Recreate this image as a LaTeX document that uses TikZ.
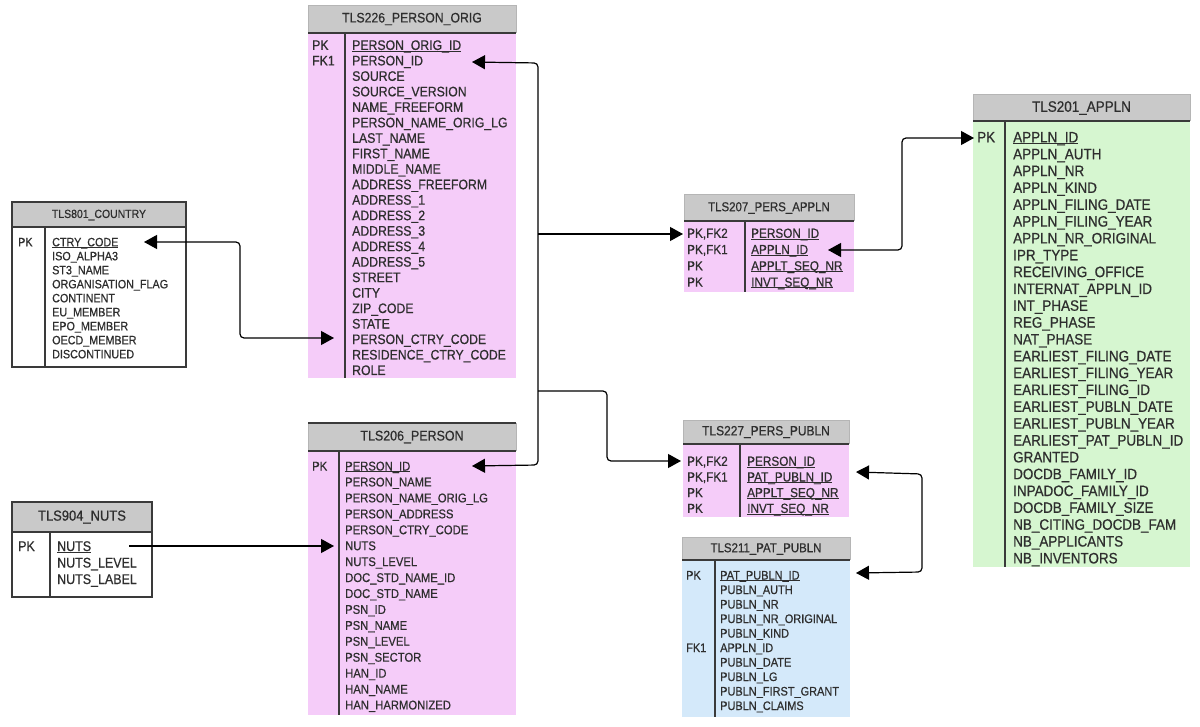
\documentclass[tikz,border=0pt]{standalone}
\usepackage{fontspec}
\setmainfont{Liberation Sans}[Scale=1.12, FakeStretch=0.89, FakeBold=0.6]
\usetikzlibrary{arrows.meta}
\definecolor{pinkb}{HTML}{F5CCF9}
\definecolor{greenb}{HTML}{D6F6D0}
\definecolor{blueb}{HTML}{D4E9FA}
\definecolor{hdgray}{HTML}{C9C9C9}
\definecolor{txt}{HTML}{2E2E2E}
\definecolor{frame}{HTML}{3A3A3A}
\definecolor{lframe}{HTML}{B5B5B5}
\newcommand\ulx[1]{\setbox0\hbox{#1}\rlap{\rule[-0.13em]{\wd0}{0.075em}}\box0}
\tikzset{
 fld/.style={font=\fontsize{#1}{#1}\selectfont, anchor=base west, inner sep=0pt, text=txt},
 ttl/.style={font=\fontsize{#1}{#1}\selectfont, inner sep=0pt, text=txt},
 hdline/.style={draw=frame, line width=1.6pt},
 divline/.style={draw=frame, line width=1.3pt},
 lightframe/.style={draw=lframe, line width=0.8pt},
 boxline/.style={draw=frame, line width=1.3pt},
 conn/.style={draw=black, line width=1.2pt, rounded corners=4pt},
 tipend/.style={-{Triangle[length=13pt,width=14pt]}},
 tipboth/.style={{Triangle[length=13pt,width=14pt]}-{Triangle[length=13pt,width=14pt]}},
}
\newcommand\tblframe[7]{%
 \fill[hdgray] (#1,#3) rectangle (#2,#4);
 \draw[lightframe] (#1,#4) -- (#1,#3) -- (#2,#3) -- (#2,#4);
 \fill[#7] (#1,#4) rectangle (#2,#5);
 \draw[hdline] (#1,#4) -- (#2,#4);
 \draw[divline] (#6,#4) -- (#6,#5);}
\begin{document}
\begin{tikzpicture}[x=1pt,y=-1pt]
\useasboundingbox (0,0) rectangle (1200,727);
\fill[white] (0,0) rectangle (1200,727);

% ---------- TLS226_PERSON_ORIG
\tblframe{308}{516}{5}{33}{378}{345}{pinkb}
\node[ttl=12.3] (t226) at (412,19) {TLS226\_PERSON\_ORIG};
\node[fld=12.3] (o1k) at (312,49.9) {PK};
\node[fld=12.3] (o2k) at (312,65.4) {FK1};
\foreach \f [count=\i] in {\ulx{PERSON\_ORIG\_ID},PERSON\_ID,SOURCE,SOURCE\_VERSION,NAME\_FREEFORM,PERSON\_NAME\_ORIG\_LG,LAST\_NAME,FIRST\_NAME,MIDDLE\_NAME,ADDRESS\_FREEFORM,ADDRESS\_1,ADDRESS\_2,ADDRESS\_3,ADDRESS\_4,ADDRESS\_5,STREET,CITY,ZIP\_CODE,STATE,PERSON\_CTRY\_CODE,RESIDENCE\_CTRY\_CODE,ROLE}
  \node[fld=12.3] (o\i) at (352,{49.9+15.48*(\i-1)}) {\f};

% ---------- TLS206_PERSON
\tblframe{308}{516}{423}{451}{715}{339}{pinkb}
\draw[hdline] (308,423) -- (516,423);
\node[ttl=12.5] (t206) at (412,437) {TLS206\_PERSON};
\node[fld=11.3] (p1k) at (312,470.5) {PK};
\foreach \f [count=\i] in {\ulx{PERSON\_ID},PERSON\_NAME,PERSON\_NAME\_ORIG\_LG,PERSON\_ADDRESS,PERSON\_CTRY\_CODE,NUTS,NUTS\_LEVEL,DOC\_STD\_NAME\_ID,DOC\_STD\_NAME,PSN\_ID,PSN\_NAME,PSN\_LEVEL,PSN\_SECTOR,HAN\_ID,HAN\_NAME,HAN\_HARMONIZED}
  \node[fld=11.3] (p\i) at (345,{470.5+15.93*(\i-1)}) {\f};

% ---------- TLS801_COUNTRY
\fill[hdgray] (12,202) rectangle (186,227);
\fill[white] (12,227) rectangle (186,367);
\draw[boxline] (12,202) rectangle (186,367);
\draw[boxline] (12,227) -- (186,227);
\draw[divline] (45,227) -- (45,367);
\node[ttl=10.5] (t801) at (99,215) {TLS801\_COUNTRY};
\node[fld=10.8] (c1k) at (18,246.3) {PK};
\foreach \f [count=\i] in {\ulx{CTRY\_CODE},ISO\_ALPHA3,ST3\_NAME,ORGANISATION\_FLAG,CONTINENT,EU\_MEMBER,EPO\_MEMBER,OECD\_MEMBER,DISCONTINUED}
  \node[fld=10.8] (c\i) at (52,{246.3+14*(\i-1)}) {\f};

% ---------- TLS904_NUTS
\fill[hdgray] (12,502) rectangle (152,532);
\fill[white] (12,532) rectangle (152,597);
\draw[boxline] (12,502) rectangle (152,597);
\draw[boxline] (12,532) -- (152,532);
\draw[divline] (50,532) -- (50,597);
\node[ttl=13] (t904) at (82,517) {TLS904\_NUTS};
\node[fld=12.5] (n1k) at (18,551) {PK};
\foreach \f [count=\i] in {\ulx{NUTS},NUTS\_LEVEL,NUTS\_LABEL}
  \node[fld=12.5] (n\i) at (57,{551+16.5*(\i-1)}) {\f};

% ---------- TLS207_PERS_APPLN
\tblframe{684}{854}{194}{221}{292}{745}{pinkb}
\node[ttl=11.5] (t207) at (769,208) {TLS207\_PERS\_APPLN};
\foreach \k [count=\i] in {PK\rlap{,}\hphantom{,}FK2,PK\rlap{,}\hphantom{,}FK1,PK,PK}
  \node[fld=11.8] (a\i k) at (687,{237.8+16.3*(\i-1)}) {\k};
\foreach \f [count=\i] in {\ulx{PERSON\_ID},\ulx{APPLN\_ID},\ulx{APPLT\_SEQ\_NR},\ulx{INVT\_SEQ\_NR}}
  \node[fld=11.8] (a\i) at (751,{237.8+16.3*(\i-1)}) {\f};

% ---------- TLS227_PERS_PUBLN
\tblframe{683}{849}{420}{444}{517}{740}{pinkb}
\node[ttl=12] (t227) at (766,432) {TLS227\_PERS\_PUBLN};
\foreach \k [count=\i] in {PK\rlap{,}\hphantom{,}FK2,PK\rlap{,}\hphantom{,}FK1,PK,PK}
  \node[fld=11.8] (b\i k) at (687,{465.8+15.7*(\i-1)}) {\k};
\foreach \f [count=\i] in {\ulx{PERSON\_ID},\ulx{PAT\_PUBLN\_ID},\ulx{APPLT\_SEQ\_NR},\ulx{INVT\_SEQ\_NR}}
  \node[fld=11.8] (b\i) at (747,{465.8+15.7*(\i-1)}) {\f};

% ---------- TLS211_PAT_PUBLN
\tblframe{682}{850}{537}{560}{717}{715}{blueb}
\node[ttl=11.5] (t211) at (766,549) {TLS211\_PAT\_PUBLN};
\node[fld=11] (u1k) at (686,579.5) {PK};
\node[fld=11] (u6k) at (686,{579.5+14.5*5}) {FK1};
\foreach \f [count=\i] in {\ulx{PAT\_PUBLN\_ID},PUBLN\_AUTH,PUBLN\_NR,PUBLN\_NR\_ORIGINAL,PUBLN\_KIND,APPLN\_ID,PUBLN\_DATE,PUBLN\_LG,PUBLN\_FIRST\_GRANT,PUBLN\_CLAIMS}
  \node[fld=11] (u\i) at (720,{579.5+14.5*(\i-1)}) {\f};

% ---------- TLS201_APPLN
\tblframe{973}{1190}{94}{121}{567}{1005}{greenb}
\node[ttl=13.5] (t201) at (1081.5,108) {TLS201\_APPLN};
\node[fld=13.5] (g1k) at (977,142.4) {PK};
\foreach \f [count=\i] in {\ulx{APPLN\_ID},APPLN\_AUTH,APPLN\_NR,APPLN\_KIND,APPLN\_FILING\_DATE,APPLN\_FILING\_YEAR,APPLN\_NR\_ORIGINAL,IPR\_TYPE,RECEIVING\_OFFICE,INTERNAT\_APPLN\_ID,INT\_PHASE,REG\_PHASE,NAT\_PHASE,EARLIEST\_FILING\_DATE,EARLIEST\_FILING\_YEAR,EARLIEST\_FILING\_ID,EARLIEST\_PUBLN\_DATE,EARLIEST\_PUBLN\_YEAR,EARLIEST\_PAT\_PUBLN\_ID,GRANTED,DOCDB\_FAMILY\_ID,INPADOC\_FAMILY\_ID,DOCDB\_FAMILY\_SIZE,NB\_CITING\_DOCDB\_FAM,NB\_APPLICANTS,NB\_INVENTORS}
  \node[fld=13.5] (g\i) at (1013,{142.4+16.84*(\i-1)}) {\f};

% ---------- connector end points
\coordinate (o2in) at (472,62);
\coordinate (p1in) at (472,466);
\coordinate (jt) at (538,63);
\coordinate (jb) at (538,465);
\coordinate (j207) at (538,234);
\coordinate (j227) at (538,391);
\coordinate (k227a) at (607,391);
\coordinate (k227b) at (607,461);
\coordinate (a1in) at (683,234);
\coordinate (b1in) at (681,461);
\coordinate (c1in) at (144,242);
\coordinate (cbend1) at (240,242);
\coordinate (cbend2) at (240,338);
\coordinate (o20in) at (334,338);
\coordinate (n1out) at (129,546);
\coordinate (p6in) at (334,546);
\coordinate (a2in) at (828,250);
\coordinate (gbend1) at (902,250);
\coordinate (gbend2) at (902,138);
\coordinate (g1in) at (974,138);
\coordinate (b2in) at (856,472);
\coordinate (ubend1) at (922,474);
\coordinate (ubend2) at (922,572);
\coordinate (u1in) at (856,573);

% ---------- connectors
\draw[conn,tipboth] (o2in) -- (jt) -- (jb) -- (p1in);
\draw[conn,tipend] (j207) -- (a1in);
\draw[conn,tipend] (j227) -- (k227a) -- (k227b) -- (b1in);
\draw[conn,tipboth] (c1in) -- (cbend1) -- (cbend2) -- (o20in);
\draw[conn,tipend] (n1out) -- (p6in);
\draw[conn,tipboth] (a2in) -- (gbend1) -- (gbend2) -- (g1in);
\draw[conn,tipboth] (b2in) -- (ubend1) -- (ubend2) -- (u1in);
\end{tikzpicture}
\end{document}
